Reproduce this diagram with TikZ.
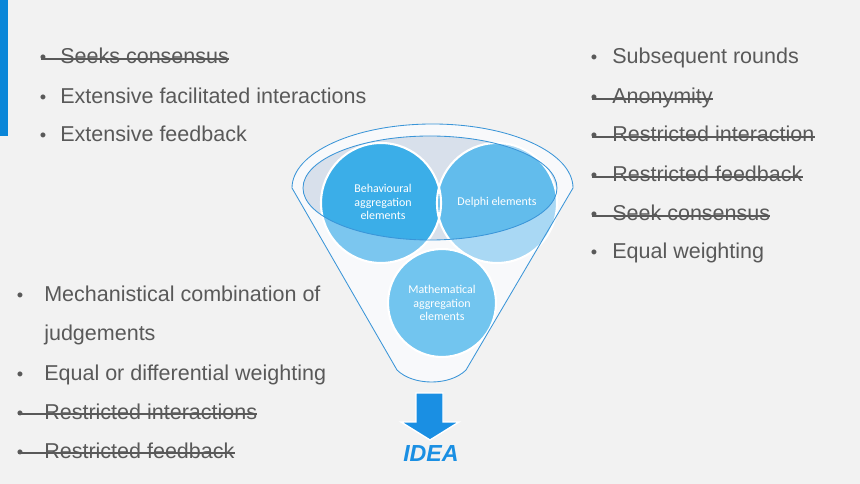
\documentclass[tikz,border=0pt]{standalone}
\usepackage{fontspec}
\setmainfont{Liberation Sans}
\newfontfamily\calib{Carlito}
\usetikzlibrary{calc}
\definecolor{bg}{HTML}{F2F2F2}
\definecolor{ink}{HTML}{595959}
\definecolor{bar}{HTML}{0A86D8}
\definecolor{rim}{HTML}{3A95D8}
\definecolor{funfill}{HTML}{F8F9FB}
\definecolor{lens}{HTML}{D8E0EB}
\definecolor{behdark}{HTML}{3BAEE8}
\definecolor{behlight}{HTML}{7BC6EF}
\definecolor{deldark}{HTML}{62BCEC}
\definecolor{dellight}{HTML}{A9D8F4}
\definecolor{mathc}{HTML}{72C5EF}
\definecolor{ideablue}{HTML}{1A8FE3}
\tikzset{every node/.style={inner sep=0pt},
  item/.style={anchor=base west,text=ink,font=\fontsize{15.3}{17}\selectfont},
  bul/.style={anchor=base,text=ink,font=\fontsize{13}{15}\selectfont},
  strike/.style={draw=ink,line width=.9pt},
  ball/.style={draw=white,line width=1.5pt},
  ctext/.style={text=white,align=center,font=\calib\fontsize{8.5}{9.8}\selectfont},
  edge/.style={draw=rim,line width=.6pt}}
\begin{document}
\begin{tikzpicture}[x=.025cm,y=-.025cm]
\fill[bg] (0,0) rectangle (860,484);\useasboundingbox (0,0) rectangle (860,484);
\fill[bar] (0,0) rectangle (8,136);
% Funnel body, lens and the three element circles.
\fill[funfill] (292,188) arc[start angle=180,end angle=360,x radius=140.5,y radius=64] -- (466,370) .. controls (450,386) and (413,386) .. (397,370) -- cycle;
\fill[lens] (430,188) ellipse[x radius=127,y radius=52];
\fill[behlight] (381,203) circle[radius=60];\fill[dellight] (497,203) circle[radius=60];\fill[mathc] (442,303) circle[radius=54];
\begin{scope}\clip (430,188) ellipse[x radius=127,y radius=52];
\fill[behdark] (381,203) circle[radius=60];\fill[deldark] (497,203) circle[radius=60];\end{scope}
\draw[ball] (381,203) circle[radius=60];\draw[ball] (497,203) circle[radius=60];\draw[ball] (442,303) circle[radius=54];
\draw[edge] (430,188) ellipse[x radius=127,y radius=52];
\draw[edge] (292,188) arc[start angle=180,end angle=360,x radius=140.5,y radius=64] -- (466,370) .. controls (450,386) and (413,386) .. (397,370) -- cycle;
\node[ctext] (beh) at (383,202) {Behavioural\\aggregation\\elements};
\node[ctext] (del) at (497,202) {Delphi elements};
\node[ctext] (mat) at (442,303) {Mathematical\\aggregation\\elements};
% Outcome arrow.
\filldraw[fill=ideablue,draw=white,line width=1pt] (416,393) -- (443,393) -- (443,422) -- (459,422) -- (430,440) -- (401,422) -- (416,422) -- cycle;
\node[anchor=base,text=ideablue,font=\bfseries\itshape\fontsize{16.5}{18}\selectfont] (idea) at (431,461) {IDEA};
% Top-left list.
\node[bul] (ab1) at (43,64) {\textbullet};\node[item] (a1) at (60,64) {Seeks consensus};
\node[bul] (ab2) at (43,104) {\textbullet};\node[item] (a2) at (60,104) {Extensive facilitated interactions};
\node[bul] (ab3) at (43,142) {\textbullet};\node[item] (a3) at (60,142) {Extensive feedback};
\draw[strike] ($(ab1.base)+(-2,-5)$) -- ($(a1.base east)+(0,-5)$);
% Right list.
\node[bul] (bb1) at (594,64) {\textbullet};\node[item] (b1) at (612,64) {Subsequent rounds};
\node[bul] (bb2) at (594,104) {\textbullet};\node[item] (b2) at (612,104) {Anonymity};
\node[bul] (bb3) at (594,142) {\textbullet};\node[item] (b3) at (612,142) {Restricted interaction};
\node[bul] (bb4) at (594,182) {\textbullet};\node[item] (b4) at (612,182) {Restricted feedback};
\node[bul] (bb5) at (594,221) {\textbullet};\node[item] (b5) at (612,221) {Seek consensus};
\node[bul] (bb6) at (594,259) {\textbullet};\node[item] (b6) at (612,259) {Equal weighting};
\foreach \i in {2,3,4,5}{\draw[strike] ($(bb\i.base)+(-2,-5)$) -- ($(b\i.base east)+(0,-5)$);}
% Bottom-left list.
\node[bul] (cb1) at (20,302) {\textbullet};\node[item] (c1) at (44,302) {Mechanistical combination of};
\node[item] (c2) at (44,341) {judgements};
\node[bul] (cb3) at (20,380) {\textbullet};\node[item] (c3) at (44,380) {Equal or differential weighting};
\node[bul] (cb4) at (20,419) {\textbullet};\node[item] (c4) at (44,419) {Restricted interactions};
\node[bul] (cb5) at (20,458) {\textbullet};\node[item] (c5) at (44,458) {Restricted feedback};
\foreach \i in {4,5}{\draw[strike] ($(cb\i.base)+(-2,-5)$) -- ($(c\i.base east)+(0,-5)$);}
\end{tikzpicture}
\end{document}
